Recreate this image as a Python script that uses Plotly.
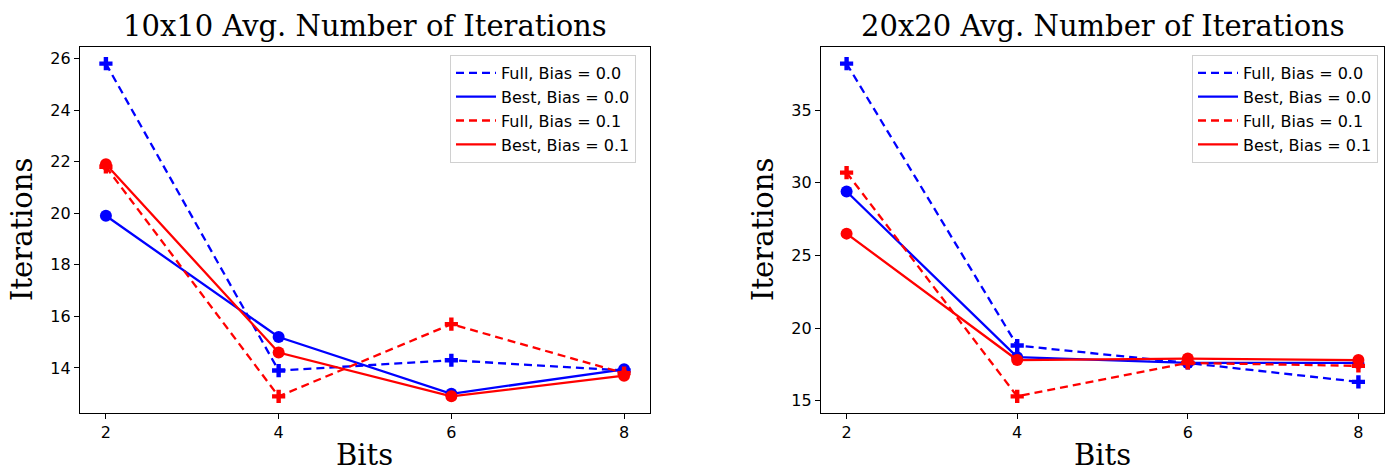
import numpy as np
import plotly.graph_objects as go

bits = [2, 4, 6, 8]

# 10x10 panel
full_b0_10 = [25.8, 13.9, 14.3, 13.9]
best_b0_10 = [19.9, 15.2, 13.0, 13.95]
full_b1_10 = [21.8, 12.9, 15.7, 13.8]
best_b1_10 = [21.9, 14.6, 12.9, 13.7]

# 20x20 panel
full_b0_20 = [38.2, 18.8, 17.6, 16.3]
best_b0_20 = [29.4, 18.0, 17.6, 17.6]
full_b1_20 = [30.7, 15.3, 17.6, 17.4]
best_b1_20 = [26.5, 17.8, 17.9, 17.8]

series_names = ["Full, Bias = 0.0", "Best, Bias = 0.0", "Full, Bias = 0.1", "Best, Bias = 0.1"]
titles = ["10x10 Avg. Number of Iterations", "20x20 Avg. Number of Iterations"]
yticks_10 = [14, 16, 18, 20, 22, 24, 26]
yticks_20 = [15, 20, 25, 30, 35]
xticks = [2, 4, 6, 8]

W, H = 1390, 475
BLUE, RED = "#0000ff", "#ff0000"
DASH = "8px,5px"
SERIF = "DejaVu Serif"
SANS = "DejaVu Sans"

styles = [
    dict(color=BLUE, dash=DASH, symbol="cross"),
    dict(color=BLUE, dash="solid", symbol="circle"),
    dict(color=RED, dash=DASH, symbol="cross"),
    dict(color=RED, dash="solid", symbol="circle"),
]

def px_x(p):
    return p / W

def px_y(p):
    return 1 - p / H

def mpl_range(vals):
    lo, hi = min(vals), max(vals)
    m = 0.05 * (hi - lo)
    return [lo - m, hi + m]

fig = go.Figure()

panels = [
    ([full_b0_10, best_b0_10, full_b1_10, best_b1_10], "x", "y", "legend"),
    ([full_b0_20, best_b0_20, full_b1_20, best_b1_20], "x2", "y2", "legend2"),
]

for data, xa, ya, lg in panels:
    for name, vals, st in zip(series_names, data, styles):
        fig.add_trace(go.Scatter(
            x=bits, y=vals, mode="lines+markers", xaxis=xa, yaxis=ya,
            line=dict(color=st["color"], dash=st["dash"], width=2.3),
            marker=dict(symbol=st["symbol"], size=12 if st["symbol"] == "circle" else 11,
                        color=st["color"], line=dict(width=0)),
            showlegend=False, hoverinfo="skip",
        ))
    for i, (name, st) in enumerate(zip(series_names, styles)):
        fig.add_trace(go.Scatter(
            x=[None], y=[None], mode="lines", xaxis=xa, yaxis=ya, name=name,
            line=dict(color=st["color"], dash=st["dash"], width=2.3),
            legend=lg, legendgroup=f"{lg}_{i}", showlegend=True,
        ))

axis_common = dict(
    showgrid=False, zeroline=False, showline=True, mirror=True,
    linecolor="black", linewidth=1.3, ticks="outside", ticklen=5, tickwidth=1.2,
    tickcolor="black", tickfont=dict(family=SANS, size=16, color="black"),
    automargin=False,
)

# pixel boxes
L_box = (80, 650)
R_box = (821, 1384)
top, bottom = 47, 413

xr = mpl_range(bits)
fig.update_layout(
    xaxis=dict(domain=[px_x(L_box[0]), px_x(L_box[1])], range=xr, tickvals=xticks,
               anchor="y", **axis_common),
    yaxis=dict(domain=[px_y(bottom), px_y(top)],
               range=mpl_range(full_b0_10 + best_b0_10 + full_b1_10 + best_b1_10),
               tickvals=yticks_10, anchor="x", **axis_common),
    xaxis2=dict(domain=[px_x(R_box[0]), px_x(R_box[1])], range=xr, tickvals=xticks,
                anchor="y2", **axis_common),
    yaxis2=dict(domain=[px_y(bottom), px_y(top)],
                range=mpl_range(full_b0_20 + best_b0_20 + full_b1_20 + best_b1_20),
                tickvals=yticks_20, anchor="x2", **axis_common),
)

legend_common = dict(
    font=dict(family=SANS, size=16, color="black"),
    bgcolor="white", bordercolor="#d0d0d0", borderwidth=1,
    xanchor="right", yanchor="top", tracegroupgap=0, itemwidth=40,
)
fig.update_layout(
    legend=dict(x=px_x(636), y=px_y(55), **legend_common),
    legend2=dict(x=px_x(1378), y=px_y(55), **legend_common),
)

annotations = []
for title, box, ylab_x in [(titles[0], L_box, 22), (titles[1], R_box, 763)]:
    cx = (box[0] + box[1]) / 2
    annotations.append(dict(text=title, x=px_x(cx), y=px_y(26), xref="paper", yref="paper",
                            xanchor="center", yanchor="middle", showarrow=False,
                            font=dict(family=SERIF, size=29, color="black")))
    annotations.append(dict(text="Bits", x=px_x(cx), y=px_y(455), xref="paper", yref="paper",
                            xanchor="center", yanchor="middle", showarrow=False,
                            font=dict(family=SERIF, size=29, color="black")))
    annotations.append(dict(text="Iterations", x=px_x(ylab_x), y=px_y((top + bottom) / 2),
                            xref="paper", yref="paper", xanchor="center", yanchor="middle",
                            textangle=-90, showarrow=False,
                            font=dict(family=SERIF, size=29, color="black")))

fig.update_layout(
    annotations=annotations,
    width=W, height=H,
    margin=dict(l=0, r=0, t=0, b=0),
    paper_bgcolor="white", plot_bgcolor="white",
    template="none",
)

fig.write_html("out.html")
